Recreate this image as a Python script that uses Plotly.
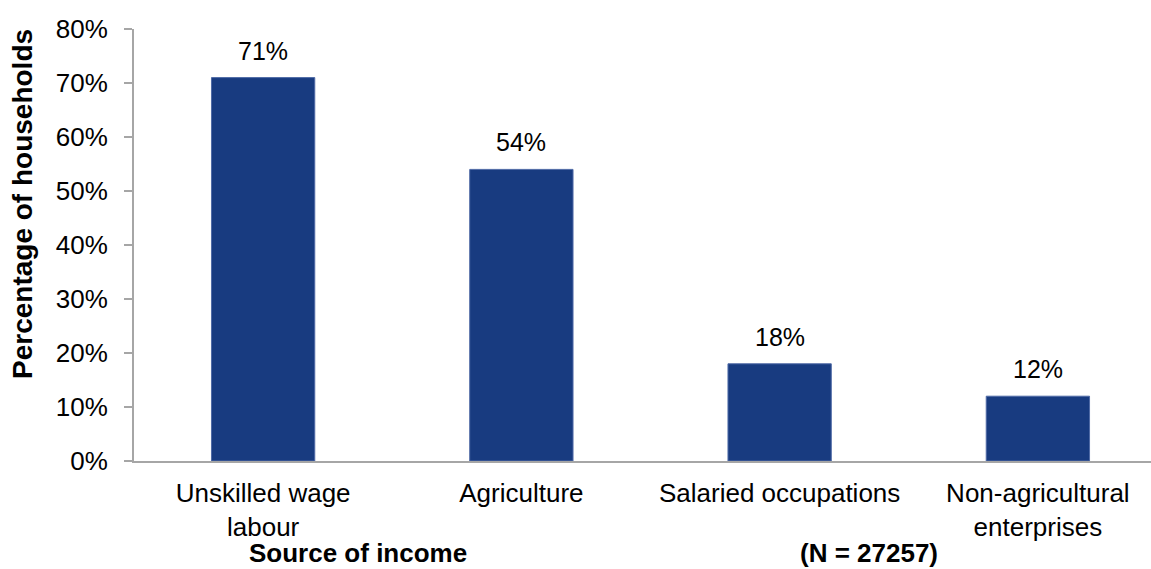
import plotly.graph_objects as go

categories = ["Unskilled wage<br>labour", "Agriculture", "Salaried occupations", "Non-agricultural<br>enterprises"]
values = [0.71, 0.54, 0.18, 0.12]
value_labels = ["71%", "54%", "18%", "12%"]
y_tickvals = [0, 0.1, 0.2, 0.3, 0.4, 0.5, 0.6, 0.7, 0.8]
y_ticktext = ["0%", "10%", "20%", "30%", "40%", "50%", "60%", "70%", "80%"]

FONT = "Liberation Sans, Arial, sans-serif"
FS = 26
BAR = "#183b80"
AXIS = "#a6a6a6"

fig = go.Figure()
fig.add_trace(go.Bar(
    x=list(range(len(categories))), y=values,
    marker=dict(color=BAR, line=dict(color="#4f6aa6", width=1)),
    width=0.4,
    hoverinfo="skip",
))

for i, (v, lab) in enumerate(zip(values, value_labels)):
    fig.add_annotation(x=i, y=v, text=lab, showarrow=False,
                       xanchor="center", yanchor="middle", yshift=27,
                       font=dict(family=FONT, size=FS - 1, color="#000000"))

fig.update_layout(
    width=1151, height=569,
    margin=dict(l=134, r=0, t=29, b=108),
    paper_bgcolor="white", plot_bgcolor="white",
    showlegend=False,
    font=dict(family=FONT, size=FS, color="#000000"),
)
fig.update_xaxes(
    tickmode="array", tickvals=list(range(len(categories))), ticktext=categories,
    range=[-0.5, 3.438],
    showline=True, linecolor=AXIS, linewidth=2,
    ticks="", showgrid=False, zeroline=False,
    ticklabelstandoff=8,
    tickfont=dict(family=FONT, size=FS, color="#000000"),
)
fig.update_yaxes(
    range=[0, 0.8], tickvals=y_tickvals, ticktext=y_ticktext,
    showline=True, linecolor=AXIS, linewidth=2,
    ticks="outside", ticklen=8, tickcolor=AXIS, tickwidth=2,
    ticklabelstandoff=11,
    showgrid=False, zeroline=False,
    tickfont=dict(family=FONT, size=FS, color="#000000"),
)
# y-axis title (placed like the original, above the plot centre)
fig.add_annotation(text="<b>Percentage of households</b>", xref="paper", yref="paper",
                   x=(22 - 134) / 1017, y=(461 - 204) / 432, textangle=-90,
                   showarrow=False, xanchor="center", yanchor="middle",
                   font=dict(family=FONT, size=28, color="#000000"))
fig.add_annotation(text="<b>Source of income</b>", xref="paper", yref="paper",
                   x=(358 - 134) / 1017, y=0, yshift=-92, showarrow=False,
                   xanchor="center", yanchor="middle",
                   font=dict(family=FONT, size=FS, color="#000000"))
fig.add_annotation(text="<b>(N = 27257)</b>", xref="paper", yref="paper",
                   x=(869 - 134) / 1017, y=0, yshift=-92, showarrow=False,
                   xanchor="center", yanchor="middle",
                   font=dict(family=FONT, size=FS, color="#000000"))

fig.write_html("out.html")
